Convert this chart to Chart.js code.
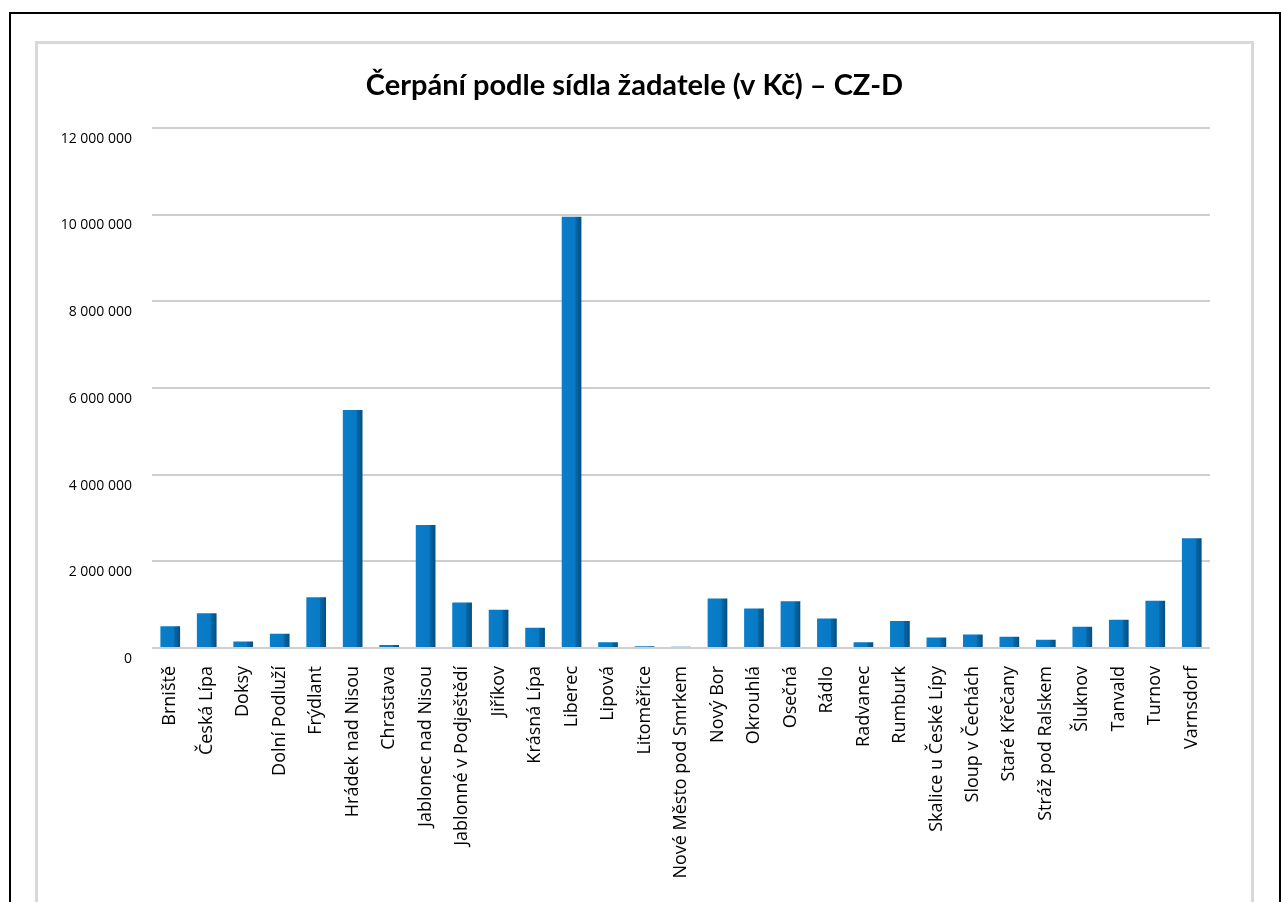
<!DOCTYPE html>
<html>
<head>
<meta charset="utf-8">
<script src="https://cdn.jsdelivr.net/npm/chart.js@4.4.0/dist/chart.umd.min.js"></script>
<style>
  body { margin: 0; background: #fff; overflow: hidden; }
  #outer { position: absolute; left: 9px; top: 12px; width: 1268px; height: 1000px; border: 2px solid #000; }
  #inner { position: absolute; left: 35px; top: 41px; width: 1213px; height: 1000px; border: 3px solid #d9d9d9; }
  #chart { position: absolute; left: 38px; top: 44px; }
</style>
</head>
<body>
<div id="outer"></div>
<div id="inner"></div>
<canvas id="chart" width="1213" height="858"></canvas>
<script>
const categories = [
  "Brniště", "Česká Lípa", "Doksy", "Dolní Podluží", "Frýdlant",
  "Hrádek nad Nisou", "Chrastava", "Jablonec nad Nisou", "Jablonné v Podještědí",
  "Jiříkov", "Krásná Lípa", "Liberec", "Lipová", "Litoměřice",
  "Nové Město pod Smrkem", "Nový Bor", "Okrouhlá", "Osečná", "Rádlo",
  "Radvanec", "Rumburk", "Skalice u České Lípy", "Sloup v Čechách",
  "Staré Křečany", "Stráž pod Ralskem", "Šluknov", "Tanvald", "Turnov", "Varnsdorf"
];
const amounts = [
  500000, 800000, 150000, 330000, 1170000,
  5490000, 70000, 2840000, 1050000,
  880000, 470000, 9950000, 130000, 40000,
  30000, 1140000, 910000, 1080000, 680000,
  130000, 620000, 240000, 310000,
  260000, 190000, 490000, 650000, 1090000, 2530000
];
const yTicks = [0, 2000000, 4000000, 6000000, 8000000, 10000000, 12000000];
const title = "Čerpání podle sídla žadatele (v Kč) – CZ-D";

const fmt = (v) => v.toString().replace(/\B(?=(\d{3})+(?!\d))/g, " ");

const barFill = (context) => {
  const chart = context.chart;
  const xs = chart.scales.x;
  if (!chart.chartArea || !xs) return "#0a7cc6";
  const x = xs.getPixelForValue(context.dataIndex);
  const w = (xs.width / categories.length) * 0.54;
  const g = chart.ctx.createLinearGradient(x - w / 2, 0, x + w / 2, 0);
  g.addColorStop(0, "#0a7eca");
  g.addColorStop(0.68, "#0879c4");
  g.addColorStop(0.72, "#0668a8");
  g.addColorStop(1, "#044f80");
  return g;
};

new Chart(document.getElementById("chart").getContext("2d"), {
  type: "bar",
  data: {
    labels: categories,
    datasets: [{
      data: amounts,
      backgroundColor: barFill,
      borderWidth: 0,
      barPercentage: 0.6,
      categoryPercentage: 0.9,
    }],
  },
  options: {
    responsive: false,
    animation: false,
    layout: { padding: { left: 21, right: 41, top: 0, bottom: 0 } },
    plugins: {
      legend: { display: false },
      tooltip: { enabled: false },
      title: {
        display: true,
        text: title,
        color: "#000",
        font: { family: "Lato", size: 29, weight: "bold" },
        padding: { top: 24, bottom: 25 },
      },
    },
    scales: {
      x: {
        grid: { display: false, drawTicks: false },
        border: { display: false },
        ticks: {
          color: "#000",
          font: { family: "Open Sans", size: 18 },
          minRotation: 90,
          maxRotation: 90,
          autoSkip: false,
          padding: 18,
        },
        afterFit: (scale) => { scale.height = 254; },
      },
      y: {
        min: 0,
        max: 12000000,
        afterBuildTicks: (scale) => { scale.ticks = yTicks.map((v) => ({ value: v })); },
        grid: { color: "#cfcfcf", lineWidth: 2, drawTicks: false },
        border: { display: false },
        ticks: {
          color: "#000",
          font: { family: "Open Sans", size: 14 },
          padding: 20,
          labelOffset: 11,
          callback: (v) => fmt(v),
        },
        afterFit: (scale) => { scale.width = 93; },
      },
    },
  },
});
</script>
</body>
</html>
